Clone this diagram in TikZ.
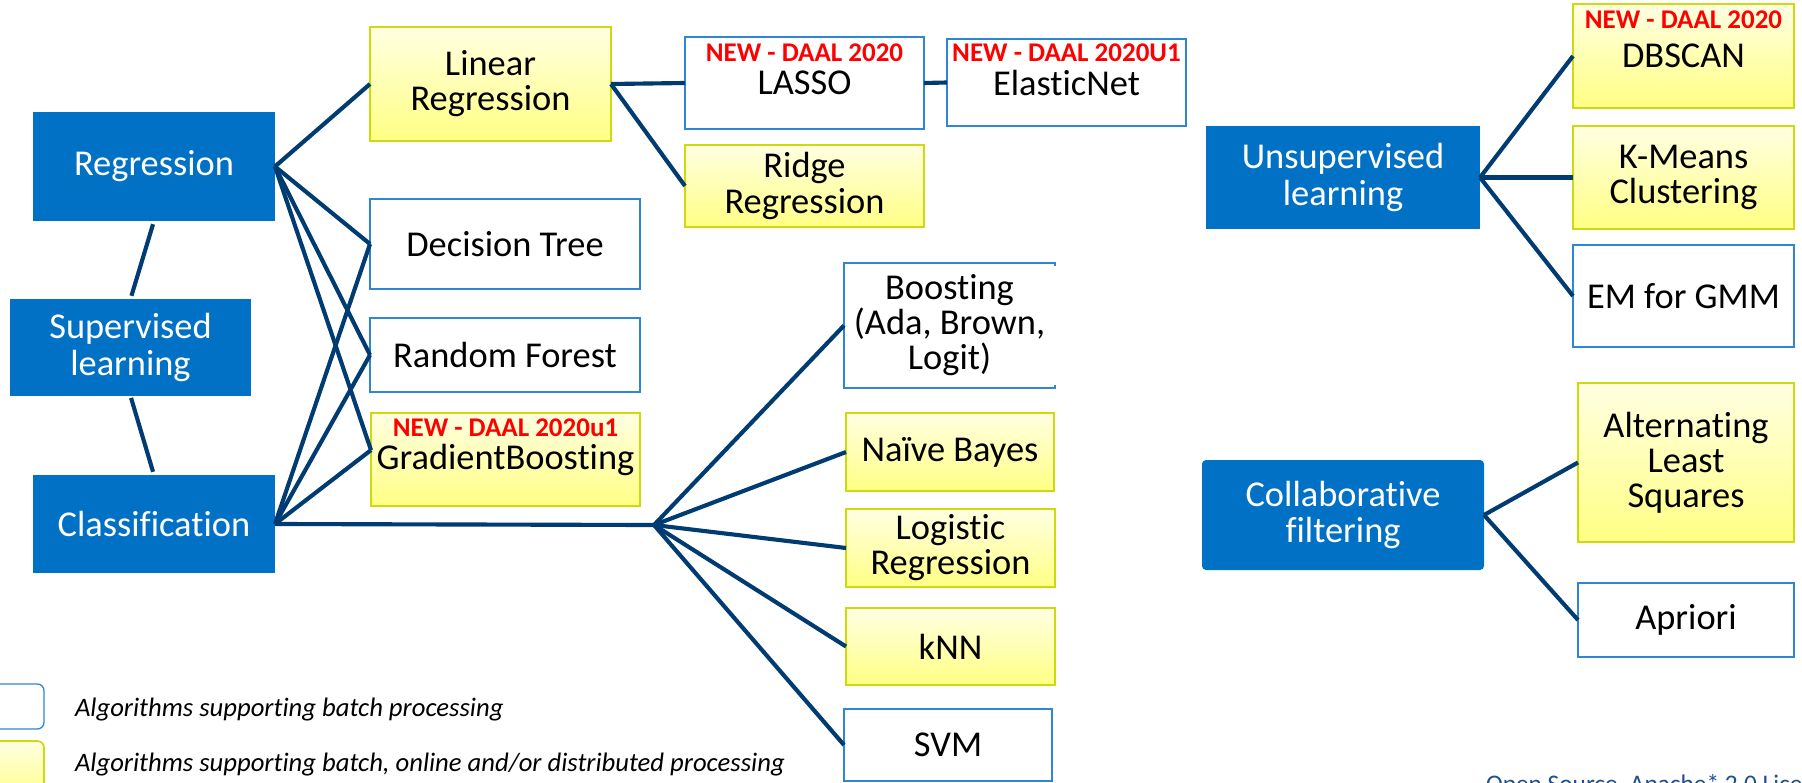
\documentclass[tikz,border=0pt]{standalone}
\usepackage{fontspec}
\setmainfont{Carlito}[Ligatures=NoCommon]
\usetikzlibrary{calc}

\definecolor{intelblue}{HTML}{0071C5}
\definecolor{linkblue}{HTML}{003C71}
\definecolor{edgeblue}{HTML}{2F86D4}
\definecolor{ytop}{HTML}{FFFFE2}
\definecolor{ybot}{HTML}{FFFF84}
\definecolor{yedge}{HTML}{CCDA10}
\definecolor{newred}{HTML}{FF0000}
\definecolor{srcblue}{HTML}{1D4F91}

% box spanning the pixel rectangle (x1,y1)-(x2,y2): style, name, x1, y1, x2, y2, text
\newcommand\pxbox[7]{%
  \node[#1, minimum width={(#5-#3)*0.75pt}, minimum height={(#6-#4)*0.75pt}]
    (#2) at ({(#3+#5)/2},{(#4+#6)/2}) {#7};}

\begin{document}
\begin{tikzpicture}[x=0.75pt,y=-0.75pt,
  every node/.style={inner sep=0pt, outer sep=0pt},
  txt/.style={align=center, font=\fontsize{27.3}{26.3}\selectfont},
  catbox/.style={txt, fill=intelblue, text=white, font=\fontsize{27.3}{27.3}\selectfont},
  plainbox/.style={txt, draw=edgeblue, line width=1.3pt, fill=white},
  bareplain/.style={txt, fill=white},
  yelbox/.style={txt, draw=yedge, line width=1.6pt, top color=ytop, bottom color=ybot},
  newtag/.style={text=newred, font=\bfseries\fontsize{20.25}{20.25}\selectfont},
  link/.style={draw=linkblue, line width=3.1pt},
  legendtxt/.style={anchor=base west, font=\itshape\fontsize{20}{20}\selectfont},
]
\useasboundingbox (0,0) rectangle (1802,782);
\clip (0,0) rectangle (1802,782);

% ---- category boxes ----
\pxbox{catbox}{reg}{33}{112}{275}{221}{Regression}
\pxbox{catbox}{sup}{10}{299}{251}{396}{Supervised\\learning}
\pxbox{catbox}{cls}{33}{475}{275}{573}{Classification}
\pxbox{catbox}{unsup}{1206}{126}{1480}{229}{Unsupervised\\learning}
\pxbox{catbox, rounded corners=3pt}{collab}{1202}{460}{1484}{570}{Collaborative\\filtering}

% ---- regression family ----
\pxbox{yelbox}{linreg}{370}{27}{611}{141}{Linear\\Regression}
\pxbox{plainbox}{lasso}{685}{37}{924}{129}{LASSO}
\pxbox{plainbox}{enet}{947}{39}{1186}{126}{ElasticNet}
\pxbox{yelbox}{ridge}{685}{145}{924}{227}{Ridge\\Regression}
\node[newtag] (lassotag) at ($(lasso.north)+(0,16)$) {NEW - DAAL 2020};
\node[newtag] (enettag) at ($(enet.north)+(0,14)$) {NEW - DAAL 2020U1};

% ---- shared tree models ----
\pxbox{plainbox}{dt}{370}{199}{640}{289}{Decision Tree}
\pxbox{plainbox}{rf}{370}{318}{640}{392}{Random Forest}
\pxbox{yelbox}{gb}{371}{413}{640}{506}{\raisebox{-2pt}{GradientBoosting}}
\node[newtag] (gbtag) at ($(gb.north)+(0,15)$) {NEW - DAAL 2020u1};

% ---- classifiers ----
\pxbox{bareplain}{boost}{844}{263}{1055}{388}{Boosting\\(Ada, Brown,\\Logit)}
\draw[edgeblue, line width=1.3pt] ($(boost.north east)+(0,3)$) -- (boost.north east)
  -- (boost.north west) -- (boost.south west) -- (boost.south east) -- ++(0,-3);
\pxbox{yelbox}{nb}{846}{413}{1054}{491}{Naïve Bayes}
\pxbox{yelbox}{logreg}{846}{509}{1055}{587}{Logistic\\Regression}
\pxbox{yelbox}{knn}{846}{608}{1055}{685}{kNN}
\pxbox{plainbox}{svm}{844}{709}{1052}{781}{SVM}
\coordinate (cj) at (654,525);

% ---- clustering ----
\pxbox{yelbox}{dbscan}{1573}{4}{1794}{108}{DBSCAN}
\node[newtag] (dbtag) at ($(dbscan.north)+(0,16)$) {NEW - DAAL 2020};
\pxbox{yelbox}{kmeans}{1573}{126}{1794}{229}{K-Means\\Clustering}
\pxbox{plainbox}{em}{1573}{245}{1794}{347}{EM for GMM}

% ---- recommendation ----
\pxbox{yelbox}{als}{1578}{383}{1794}{542}{Alternating\\Least\\Squares}
\pxbox{plainbox}{apriori}{1578}{583}{1794}{657}{Apriori}

% ---- connectors ----
\draw[link, shorten <=2.5pt, shorten >=2.5pt] (reg.south) -- (sup.north);
\draw[link, shorten <=1.5pt, shorten >=2.5pt] (sup.south) -- (cls.north);

\draw[link] (reg.east) -- (linreg.west);
\draw[link] (reg.east) -- (dt.west);
\draw[link] (reg.east) -- (rf.west);
\draw[link] (reg.east) -- (gb.176);

\draw[link] (cls.east) -- (dt.west);
\draw[link] (cls.east) -- (rf.west);
\draw[link] (cls.east) -- (gb.176);
\draw[link] (cls.east) -- (cj);

\draw[link] (cj) -- (boost.west);
\draw[link] (cj) -- (nb.west);
\draw[link] (cj) -- (logreg.west);
\draw[link] (cj) -- (knn.west);
\draw[link] (cj) -- (svm.west);

\draw[link] (linreg.east) -- (lasso.west);
\draw[link] (linreg.east) -- (ridge.west);
\draw[link] (lasso.east) -- (enet.west);

\draw[link] (unsup.east) -- (dbscan.west);
\draw[link] (unsup.east) -- (kmeans.west);
\draw[link] (unsup.east) -- (em.west);

\draw[link] (collab.east) -- (als.west);
\draw[link] (collab.east) -- (apriori.west);

% ---- legend ----
\pxbox{draw=edgeblue, line width=1pt, fill=white, rounded corners=5pt}{keybatch}{-12}{684}{44}{729}{}
\pxbox{draw=yedge, line width=1.3pt, top color=ytop, bottom color=ybot, rounded corners=5pt}{keyonline}{-12}{741}{44}{800}{}
\node[legendtxt] (keybatchtxt) at (75,716) {Algorithms supporting batch processing};
\node[legendtxt] (keyonlinetxt) at (75,771) {Algorithms supporting batch, online and/or distributed processing};

% ---- footer ----
\node[anchor=base west, text=srcblue, font=\fontsize{19}{19}\selectfont] (src) at (1486,792) {Open Source, Apache* 2.0 License};
\end{tikzpicture}
\end{document}
